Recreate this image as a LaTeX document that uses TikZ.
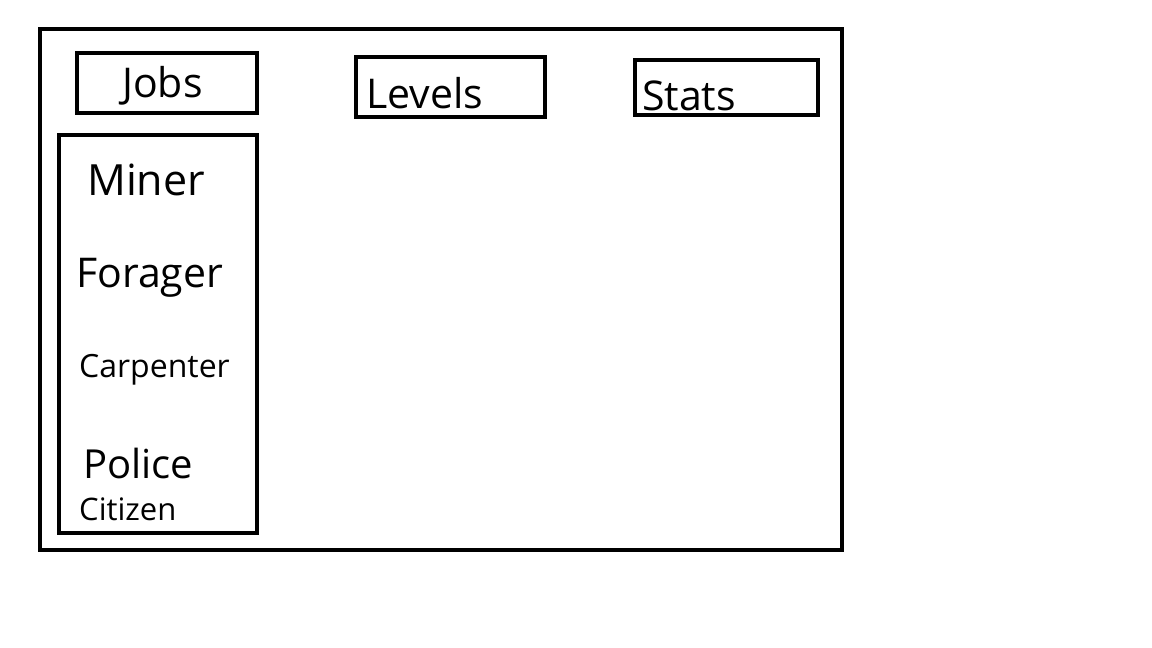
\documentclass[tikz,border=0pt]{standalone}
\usepackage{fontspec}
\setmainfont{Open Sans}
\usetikzlibrary{positioning}

\begin{document}
\begin{tikzpicture}[x=1pt,y=-1pt]
\tikzset{box/.style = {draw,line width=4pt,inner sep=0pt}}
\tikzset{txt/.style = {inner sep=0pt,anchor=base west}}
\useasboundingbox (0,0) rectangle (1152,648);
% boxes
\node[box,minimum width=802pt,minimum height=521pt] (frame) at (441,289.5) {};
\node[box,minimum width=180pt,minimum height=60pt] (jobsbox) at (167,83) {};
\node[box,minimum width=189pt,minimum height=60pt] (levelsbox) at (450.5,87) {};
\node[box,minimum width=183pt,minimum height=55pt] (statsbox) at (726.5,87.5) {};
\node[box,minimum width=198pt,minimum height=398pt] (listbox) at (158,334) {};
% headings
\node[txt,font=\fontsize{41}{43}\selectfont] (jobs) at (122,97) {Jobs};
\node[txt,font=\fontsize{41}{43}\selectfont] (levels) at (366,108) {Levels};
\node[txt,font=\fontsize{41}{43}\selectfont] (stats) at (642,110) {Stats};
% job list
\node[txt,font=\fontsize{43}{45}\selectfont] (miner) at (87,195) {Miner};
\node[txt,font=\fontsize{41}{43}\selectfont] (forager) at (76,287) {Forager};
\node[txt,font=\fontsize{32}{34}\selectfont] (carpenter) at (79,377) {Carpenter};
\node[txt,font=\fontsize{40}{42}\selectfont] (police) at (83,478) {Police};
\node[txt,font=\fontsize{31}{33}\selectfont] (citizen) at (79,520) {Citizen};
\end{tikzpicture}
\end{document}
